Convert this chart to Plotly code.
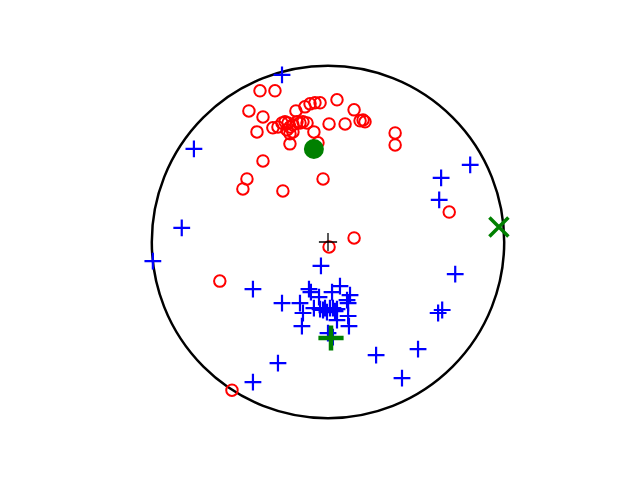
import plotly.graph_objects as go

# Class A (red open circles), normalized to unit circle
red_x = [-0.386, -0.301, -0.449, -0.369, -0.403, -0.313, -0.284, -0.261, -0.244, -0.227,
         -0.216, -0.199, -0.176, -0.159, -0.142, -0.119, -0.233, -0.199, -0.216, -0.182,
         -0.131, -0.102, -0.074, -0.045, 0.051, 0.148, 0.182, 0.199, 0.210, 0.097,
         0.006, -0.080, -0.057, -0.216, 0.381, 0.381, -0.369, -0.460, -0.483, -0.256,
         -0.028, 0.688, 0.148, 0.006, -0.614, -0.545]
red_y = [0.858, 0.858, 0.744, 0.710, 0.625, 0.648, 0.653, 0.676, 0.682, 0.676,
         0.653, 0.665, 0.682, 0.676, 0.682, 0.676, 0.636, 0.625, 0.614, 0.744,
         0.767, 0.784, 0.790, 0.790, 0.807, 0.750, 0.688, 0.693, 0.682, 0.670,
         0.670, 0.625, 0.563, 0.557, 0.619, 0.551, 0.460, 0.358, 0.301, 0.290,
         0.358, 0.170, 0.023, -0.028, -0.222, -0.841]

# Class B (blue pluses)
blue_x = [-0.261, -0.761, -0.830, -0.994, -0.426, -0.426, -0.284, 0.807, 0.642, 0.631,
          0.722, 0.648, 0.625, 0.511, 0.273, 0.420, -0.040, -0.108, -0.097, -0.261,
          -0.159, -0.142, -0.148, -0.051, 0.023, 0.068, 0.125, 0.108, 0.114, 0.114,
          0.119, 0.051, 0.000, 0.028, -0.080, -0.045, -0.017, 0.011, 0.028, 0.051,
          -0.006, -0.028, 0.040]
blue_y = [0.949, 0.528, 0.080, -0.108, -0.267, -0.795, -0.688, 0.438, 0.364, 0.239,
          -0.182, -0.386, -0.403, -0.608, -0.642, -0.773, -0.136, -0.267, -0.284, -0.347,
          -0.347, -0.403, -0.477, -0.313, -0.284, -0.250, -0.301, -0.330, -0.347, -0.420,
          -0.477, -0.443, -0.517, -0.540, -0.375, -0.381, -0.375, -0.375, -0.375, -0.381,
          -0.398, -0.386, -0.392]

# Reference markers
center_x, center_y = [0.0], [0.0]
gcircle_x, gcircle_y = [-0.080], [0.528]
gplus_x, gplus_y = [0.017], [-0.545]
gx_x, gx_y = [0.970], [0.085]

fig = go.Figure()
fig.add_trace(go.Scatter(x=red_x, y=red_y, mode="markers",
                         marker=dict(symbol="circle-open", size=11.5, color="red",
                                     line=dict(width=2, color="red"))))
fig.add_trace(go.Scatter(x=blue_x, y=blue_y, mode="markers",
                         marker=dict(symbol="cross-thin-open", size=12, color="blue",
                                     line=dict(width=2.2, color="blue"))))
fig.add_trace(go.Scatter(x=center_x, y=center_y, mode="markers",
                         marker=dict(symbol="cross-thin-open", size=13, color="black",
                                     line=dict(width=1.3, color="black"))))
fig.add_trace(go.Scatter(x=gcircle_x, y=gcircle_y, mode="markers",
                         marker=dict(symbol="circle", size=20, color="green",
                                     line=dict(width=0))))
fig.add_trace(go.Scatter(x=gplus_x, y=gplus_y, mode="markers",
                         marker=dict(symbol="cross-thin-open", size=18, color="green",
                                     line=dict(width=4.5, color="green"))))
fig.add_trace(go.Scatter(x=gx_x, y=gx_y, mode="markers",
                         marker=dict(symbol="x-thin-open", size=19, color="green",
                                     line=dict(width=3.5, color="green"))))

fig.add_shape(type="circle", xref="x", yref="y", x0=-1, y0=-1, x1=1, y1=1,
              line=dict(color="black", width=2.5), layer="below")

fig.update_layout(
    width=640, height=480,
    margin=dict(l=80, r=64, t=57, b=53),
    paper_bgcolor="white", plot_bgcolor="white",
    showlegend=False,
    xaxis=dict(range=[-1.4075, 1.4075], visible=False),
    yaxis=dict(range=[-1.05, 1.05], visible=False),
)
fig.write_html("out.html")
